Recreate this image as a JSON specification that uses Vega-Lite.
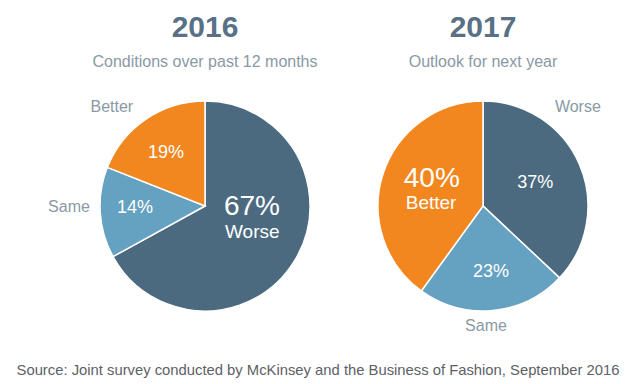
{
  "$schema": "https://vega.github.io/schema/vega-lite/v6.json",
  "width": 632,
  "height": 356,
  "autosize": "none",
  "padding": {"top": 28, "left": 0, "right": 0, "bottom": 0},
  "background": "white",
  "config": {"view": {"stroke": null}, "font": "Liberation Sans", "text": {"font": "Liberation Sans"}},
  "datasets": {
    "shares": [
      {"year": "2016", "category": "Worse", "share": 0.67},
      {"year": "2016", "category": "Same", "share": 0.14},
      {"year": "2016", "category": "Better", "share": 0.19},
      {"year": "2017", "category": "Worse", "share": 0.37},
      {"year": "2017", "category": "Same", "share": 0.23},
      {"year": "2017", "category": "Better", "share": 0.40}
    ],
    "titles": [
      {"year": "2016", "title": "2016", "subtitle": "Conditions over past 12 months"},
      {"year": "2017", "title": "2017", "subtitle": "Outlook for next year"}
    ],
    "notes": [
      {"note": "Source: Joint survey conducted by McKinsey and the Business of Fashion, September 2016"}
    ]
  },
  "encoding": {
    "x": {"field": "year", "type": "nominal", "scale": {"type": "point", "domain": ["2016", "2017"], "range": [205, 483], "padding": 0}, "axis": null}
  },
  "layer": [
    {
      "data": {"name": "shares"},
      "transform": [{"filter": "datum.year === '2016'"}],
      "encoding": {
        "theta": {"field": "share", "type": "quantitative", "stack": true, "scale": {"domain": [0, 1]}},
        "order": {"field": "category", "type": "ordinal", "sort": "descending"},
        "detail": {"field": "category", "type": "nominal"}
      },
      "layer": [
        {
          "mark": {"type": "arc", "radius": 105, "stroke": "white", "strokeWidth": 1.5},
          "encoding": {
            "color": {"field": "category", "type": "nominal", "scale": {"domain": ["Worse", "Same", "Better"], "range": ["#4b6a80", "#65a1c1", "#f28720"]}, "legend": null}
          }
        },
        {
          "mark": {"type": "text", "radius": 66, "fontSize": 18, "fill": "white", "baseline": "middle", "align": "center"},
          "encoding": {
            "theta": {"field": "share", "type": "quantitative", "stack": true, "bandPosition": 0.47},
            "text": {"condition": {"test": "datum.category === 'Better'", "field": "share", "type": "quantitative", "format": ".0%"}, "value": ""}
          }
        },
        {
          "mark": {"type": "text", "radius": 70, "fontSize": 18, "fill": "white", "baseline": "middle", "align": "center"},
          "encoding": {
            "theta": {"field": "share", "type": "quantitative", "stack": true, "bandPosition": 0.54},
            "text": {"condition": {"test": "datum.category === 'Same'", "field": "share", "type": "quantitative", "format": ".0%"}, "value": ""}
          }
        },
        {
          "mark": {"type": "text", "radius": 47, "fontSize": 28, "fill": "white", "baseline": "middle", "align": "center"},
          "encoding": {
            "theta": {"field": "share", "type": "quantitative", "stack": true, "bandPosition": 0.378},
            "text": {"condition": {"test": "datum.category === 'Worse'", "field": "share", "type": "quantitative", "format": ".0%"}, "value": ""}
          }
        },
        {
          "mark": {"type": "text", "radius": 54, "fontSize": 19, "fill": "white", "baseline": "middle", "align": "center"},
          "encoding": {
            "theta": {"field": "share", "type": "quantitative", "stack": true, "bandPosition": 0.493},
            "text": {"condition": {"test": "datum.category === 'Worse'", "field": "category", "type": "nominal"}, "value": ""}
          }
        },
        {
          "mark": {"type": "text", "radius": 136, "fontSize": 16, "fill": "#8a99a5", "baseline": "middle", "align": "center"},
          "encoding": {
            "theta": {"field": "share", "type": "quantitative", "stack": true, "bandPosition": 0.368},
            "text": {"condition": {"test": "datum.category === 'Better'", "field": "category", "type": "nominal"}, "value": ""}
          }
        },
        {
          "mark": {"type": "text", "radius": 136, "fontSize": 16, "fill": "#8a99a5", "baseline": "middle", "align": "center"},
          "encoding": {
            "theta": {"field": "share", "type": "quantitative", "stack": true, "bandPosition": 0.56},
            "text": {"condition": {"test": "datum.category === 'Same'", "field": "category", "type": "nominal"}, "value": ""}
          }
        }
      ]
    },
    {
      "data": {"name": "shares"},
      "transform": [{"filter": "datum.year === '2017'"}],
      "encoding": {
        "theta": {"field": "share", "type": "quantitative", "stack": true, "scale": {"domain": [0, 1]}},
        "order": {"field": "category", "type": "ordinal", "sort": "descending"},
        "detail": {"field": "category", "type": "nominal"}
      },
      "layer": [
        {
          "mark": {"type": "arc", "radius": 105, "stroke": "white", "strokeWidth": 1.5},
          "encoding": {
            "color": {"field": "category", "type": "nominal", "scale": {"domain": ["Worse", "Same", "Better"], "range": ["#4b6a80", "#65a1c1", "#f28720"]}, "legend": null}
          }
        },
        {
          "mark": {"type": "text", "radius": 57, "fontSize": 18, "fill": "white", "baseline": "middle", "align": "center"},
          "encoding": {
            "theta": {"field": "share", "type": "quantitative", "stack": true, "bandPosition": 0.5},
            "text": {"condition": {"test": "datum.category === 'Worse'", "field": "share", "type": "quantitative", "format": ".0%"}, "value": ""}
          }
        },
        {
          "mark": {"type": "text", "radius": 66, "fontSize": 18, "fill": "white", "baseline": "middle", "align": "center"},
          "encoding": {
            "theta": {"field": "share", "type": "quantitative", "stack": true, "bandPosition": 0.482},
            "text": {"condition": {"test": "datum.category === 'Same'", "field": "share", "type": "quantitative", "format": ".0%"}, "value": ""}
          }
        },
        {
          "mark": {"type": "text", "radius": 58, "fontSize": 28, "fill": "white", "baseline": "middle", "align": "center"},
          "encoding": {
            "theta": {"field": "share", "type": "quantitative", "stack": true, "bandPosition": 0.569},
            "text": {"condition": {"test": "datum.category === 'Better'", "field": "share", "type": "quantitative", "format": ".0%"}, "value": ""}
          }
        },
        {
          "mark": {"type": "text", "radius": 52, "fontSize": 19, "fill": "white", "baseline": "middle", "align": "center"},
          "encoding": {
            "theta": {"field": "share", "type": "quantitative", "stack": true, "bandPosition": 0.398},
            "text": {"condition": {"test": "datum.category === 'Better'", "field": "category", "type": "nominal"}, "value": ""}
          }
        },
        {
          "mark": {"type": "text", "radius": 137, "fontSize": 16, "fill": "#8a99a5", "baseline": "middle", "align": "center"},
          "encoding": {
            "theta": {"field": "share", "type": "quantitative", "stack": true, "bandPosition": 0.329},
            "text": {"condition": {"test": "datum.category === 'Worse'", "field": "category", "type": "nominal"}, "value": ""}
          }
        },
        {
          "mark": {"type": "text", "radius": 120, "fontSize": 16, "fill": "#8a99a5", "baseline": "middle", "align": "center"},
          "encoding": {
            "theta": {"field": "share", "type": "quantitative", "stack": true, "bandPosition": 0.548},
            "text": {"condition": {"test": "datum.category === 'Same'", "field": "category", "type": "nominal"}, "value": ""}
          }
        }
      ]
    },
    {
      "data": {"name": "titles"},
      "mark": {"type": "text", "fontSize": 30, "fontWeight": "bold", "fill": "#587186", "baseline": "middle", "align": "center", "dy": -178},
      "encoding": {"text": {"field": "title", "type": "nominal"}}
    },
    {
      "data": {"name": "titles"},
      "mark": {"type": "text", "fontSize": 16, "fill": "#8a99a5", "baseline": "middle", "align": "center", "dy": -144},
      "encoding": {"text": {"field": "subtitle", "type": "nominal"}}
    },
    {
      "data": {"name": "notes"},
      "mark": {"type": "text", "fontSize": 14.8, "fill": "#5d6166", "baseline": "middle", "align": "center", "dx": 2, "dy": 165},
      "encoding": {"x": null, "text": {"field": "note", "type": "nominal"}}
    }
  ]
}
